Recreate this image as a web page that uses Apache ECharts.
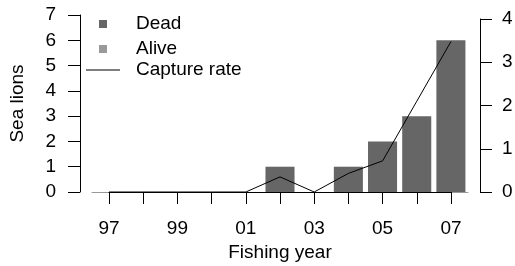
<!DOCTYPE html>
<html><head><meta charset="utf-8">
<script src="https://cdn.jsdelivr.net/npm/echarts@6/dist/echarts.min.js"></script>
<style>html,body{margin:0;padding:0;background:#fff}#c{width:515px;height:266px}</style>
</head><body><div id="c"></div>
<script>
var years = ['97','98','99','00','01','02','03','04','05','06','07'];
var dead = [0,0,0,0,0,1,0,1,2,3,6];
var alive = [0,0,0,0,0,0,0,0,0,0,0];
var captureRate = [0,0,0,0,0,0.35,0,0.43,0.72,2.1,3.48];
var leftTicks = [0,7,1];
var rightTicks = [0,4,1];

var FF = "'Liberation Sans', Arial, sans-serif";
var FS = 19;
var chart = echarts.init(document.getElementById('c'), null, {renderer:'canvas'});
chart.setOption({
  animation:false,
  backgroundColor:'#fff',
  textStyle:{fontFamily:FF},
  legend:[{
    data:['Dead','Alive'], orient:'vertical', left:99, top:11.5, padding:0, itemGap:0,
    itemWidth:8, itemHeight:8, icon:'rect',
    textStyle:{fontFamily:FF, fontSize:FS, color:'#000', lineHeight:25, padding:[0,0,0,24]}
  },{
    data:['Capture rate'], orient:'vertical', left:86, top:57.5, padding:0,
    itemWidth:34, itemHeight:1, icon:'rect',
    textStyle:{fontFamily:FF, fontSize:FS, color:'#000', lineHeight:25, padding:[0,0,0,11]}
  }],
  grid:[
    {left:92, width:376, top:15, height:177, outerBoundsMode:'none', containLabel:false},
    {left:109, width:342, top:19, height:173, outerBoundsMode:'none', containLabel:false}
  ],
  xAxis:[{
    type:'category', gridIndex:0, data:years, boundaryGap:true,
    axisLine:{show:true, lineStyle:{color:'#999', width:1}},
    axisTick:{show:false}, axisLabel:{show:false}, splitLine:{show:false}
  },{
    type:'category', gridIndex:1, data:years, boundaryGap:false,
    name:'Fishing year', nameLocation:'middle', nameGap:47,
    nameTextStyle:{fontFamily:FF, fontSize:FS, color:'#000'},
    axisLine:{show:true, lineStyle:{color:'#000', width:1}},
    axisTick:{show:true, length:12, interval:0, lineStyle:{color:'#000'}},
    axisLabel:{interval:1, margin:27, fontFamily:FF, fontSize:FS, color:'#000'},
    splitLine:{show:false}
  }],
  yAxis:[{
    type:'value', gridIndex:0, position:'left', offset:12,
    min:leftTicks[0], max:leftTicks[1], interval:leftTicks[2],
    name:'Sea lions', nameLocation:'middle', nameGap:53, nameRotate:90,
    nameTextStyle:{fontFamily:FF, fontSize:FS, color:'#000'},
    axisLine:{show:true, lineStyle:{color:'#000'}},
    axisTick:{show:true, length:12, lineStyle:{color:'#000'}},
    axisLabel:{margin:24, fontFamily:FF, fontSize:FS, color:'#000'},
    splitLine:{show:false}
  },{
    type:'value', gridIndex:1, position:'right', offset:29,
    min:rightTicks[0], max:rightTicks[1], interval:rightTicks[2],
    axisLine:{show:true, lineStyle:{color:'#000'}},
    axisTick:{show:true, length:12, lineStyle:{color:'#000'}},
    axisLabel:{margin:22, fontFamily:FF, fontSize:FS, color:'#000'},
    splitLine:{show:false}
  }],
  series:[{
    name:'Dead', type:'bar', xAxisIndex:0, yAxisIndex:0, stack:'s', data:dead,
    barCategoryGap:'15%', itemStyle:{color:'#666666'}
  },{
    name:'Alive', type:'bar', xAxisIndex:0, yAxisIndex:0, stack:'s', data:alive,
    barCategoryGap:'15%', itemStyle:{color:'#999999'}
  },{
    name:'Capture rate', type:'line', xAxisIndex:1, yAxisIndex:1, data:captureRate,
    symbol:'none', lineStyle:{color:'#000', width:1}, itemStyle:{color:'#000'}, z:5
  }]
});
</script></body></html>
